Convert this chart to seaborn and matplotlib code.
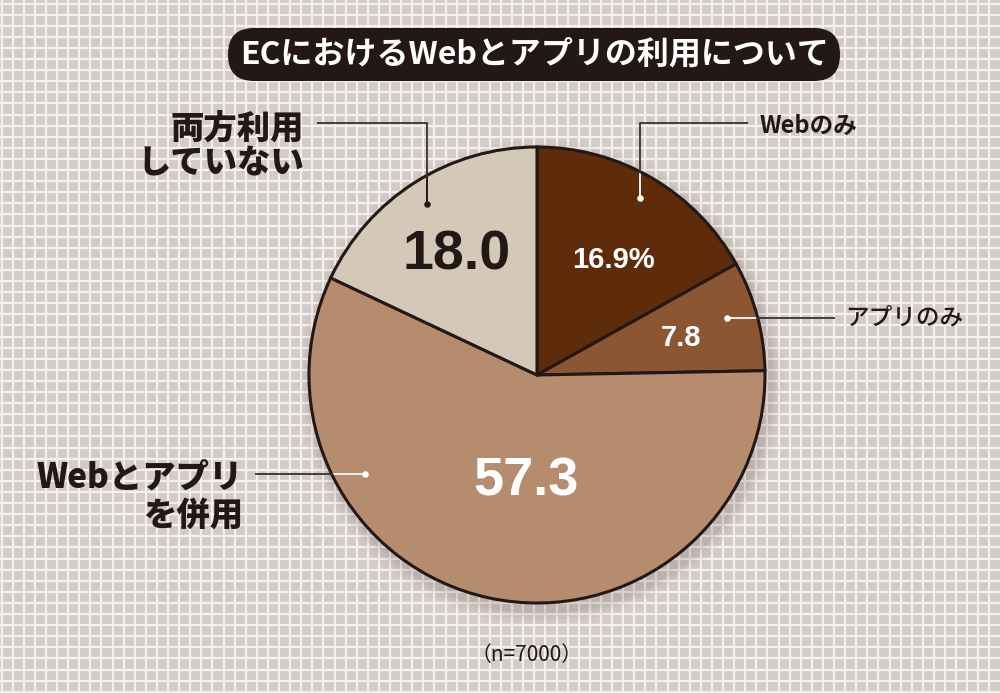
import numpy as np
import matplotlib
matplotlib.use("Agg")
import matplotlib.pyplot as plt
import seaborn as sns
from matplotlib.patches import Circle, FancyBboxPatch

# ---- data ----
categories = ["Webのみ", "アプリのみ", "Webとアプリ\nを併用", "両方利用\nしていない"]
values = [16.9, 7.8, 57.3, 18.0]
value_labels = ["16.9%", "7.8", "57.3", "18.0"]
title = "ECにおけるWebとアプリの利用について"
note = "（n=7000）"

sns.set_theme(style="white")
plt.rcParams['font.family'] = ['Noto Sans CJK JP', 'DejaVu Sans']
NUMPROPS = dict(family=['Liberation Sans', 'DejaVu Sans'], weight='bold')

W, H = 1000, 693
BG = '#d3cbc7'
DARK = '#231815'
fig = plt.figure(figsize=(10, 6.93), dpi=100)
fig.patch.set_facecolor(BG)
ax = fig.add_axes([0, 0, 1, 1])
ax.set_facecolor(BG)


def P(x, y):
    return (x, H - y)


# background grid
xs = np.arange(1.5, W, 11.1)
ys = np.arange(3.5, H, 11.1)
ax.vlines(xs, 0, H, colors='#f4f0ee', lw=1.6, zorder=0)
ax.hlines(H - ys, 0, W, colors='#f4f0ee', lw=1.6, zorder=0)

cx, cy = P(537, 375)
R = 228
colors = sns.color_palette(["#5e2b0b", "#8b5631", "#b68c6f", "#d4c8b8"])

# soft shadow
for dr, a in [(14, 0.03), (10, 0.04), (7, 0.05), (4, 0.07)]:
    ax.add_patch(Circle((cx + 4, cy - 7), R + dr, color='#5a4a44', alpha=a, lw=0, zorder=1))

wedges, _ = ax.pie(values, colors=colors, startangle=90, counterclock=False,
                   center=(cx, cy), radius=R, frame=True,
                   wedgeprops=dict(edgecolor=DARK, linewidth=2.2, zorder=2))
ax.set_xlim(0, W)
ax.set_ylim(0, H)
ax.set_axis_off()

clip_circle = Circle((cx, cy), R - 1.5, transform=ax.transData)

callouts = [
    dict(ang=59.8, rf=0.90, path=[(748, 123)], elbow=True, inner='white'),
    dict(ang=16.7, rf=0.87, path=[(835, 318)], elbow=False, inner='white'),
    dict(ang=210.0, rf=0.87, path=[(255, 475)], elbow=False, inner='white'),
    dict(ang=122.7, rf=0.89, path=[(317, 123)], elbow=True, inner=DARK),
]
for c in callouts:
    a = np.deg2rad(c['ang'])
    dx, dy = cx + c['rf'] * R * np.cos(a), cy + c['rf'] * R * np.sin(a)
    ex, ey = P(*c['path'][0])
    if c['elbow']:
        pts_x = [dx, dx, ex]
        pts_y = [dy, ey, ey]
    else:
        pts_x = [dx, ex]
        pts_y = [dy, dy]
    ax.plot(pts_x, pts_y, color='#3a302c', lw=1.3, zorder=3, solid_capstyle='butt')
    ln, = ax.plot(pts_x, pts_y, color=c['inner'], lw=1.3, zorder=4, solid_capstyle='butt')
    ln.set_clip_path(clip_circle)
    ax.scatter([dx], [dy], s=22, color=c['inner'], zorder=5, linewidths=0)

# category labels
ax.text(*P(760, 126), categories[0], ha='left', va='center', fontsize=17,
        color=DARK, weight='bold')
ax.text(*P(845, 318), categories[1], ha='left', va='center', fontsize=17,
        color=DARK, weight='medium')
l1, l2 = categories[2].split('\n')
ax.text(*P(243, 477), l1, ha='right', va='center', fontsize=24, color=DARK, weight='black')
ax.text(*P(243, 515), l2, ha='right', va='center', fontsize=24, color=DARK, weight='black')
l1, l2 = categories[3].split('\n')
ax.text(*P(304, 129), l1, ha='right', va='center', fontsize=24, color=DARK, weight='black')
ax.text(*P(304, 163), l2, ha='right', va='center', fontsize=24, color=DARK, weight='black')

# value labels
ax.text(*P(613, 260), value_labels[0], ha='center', va='center', fontsize=21,
        color='white', **NUMPROPS)
ax.text(*P(681, 338), value_labels[1], ha='center', va='center', fontsize=21,
        color='white', **NUMPROPS)
ax.text(*P(526, 481), value_labels[2], ha='center', va='center', fontsize=39,
        color='white', **NUMPROPS)
ax.text(*P(457, 255), value_labels[3], ha='center', va='center', fontsize=40,
        color=DARK, **NUMPROPS)

# title box
bx0, by0 = P(228, 81)
ax.add_patch(FancyBboxPatch((bx0, by0), 612, 53,
                            boxstyle="round,pad=0,rounding_size=26",
                            facecolor=DARK, edgecolor='none', zorder=6))
ax.text(*P(535, 54), title, ha='center', va='center', fontsize=23,
        color='white', weight='bold', zorder=7)

# note
ax.text(*P(527, 655), note, ha='center', va='center', fontsize=15, color=DARK)

fig.savefig("out.png", dpi=100, facecolor=BG)
